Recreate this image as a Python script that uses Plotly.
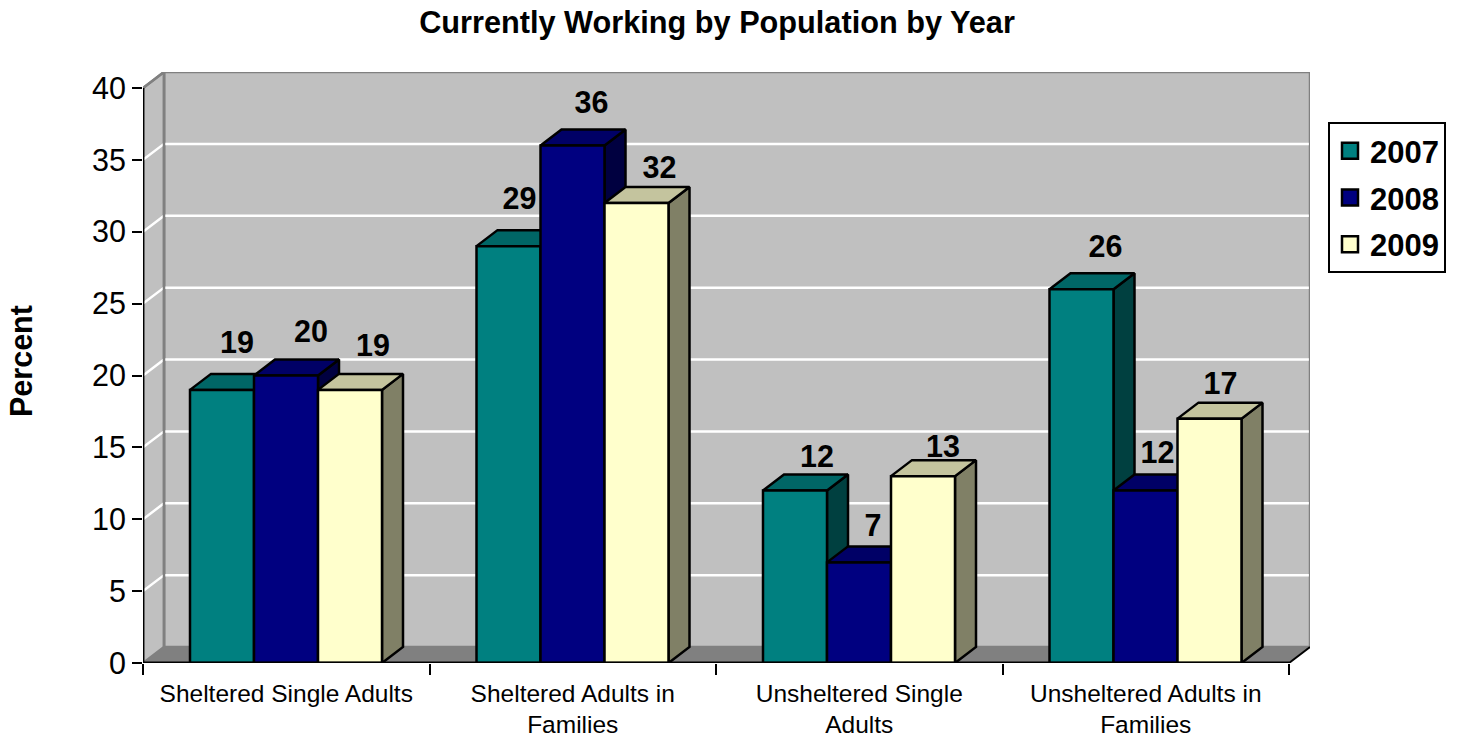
import plotly.graph_objects as go

TITLE = "Currently Working by Population by Year"
Y_TITLE = "Percent"
CATEGORIES = ["Sheltered Single Adults", "Sheltered Adults in<br>Families",
              "Unsheltered Single<br>Adults", "Unsheltered Adults in<br>Families"]
YEARS = ["2007", "2008", "2009"]
VALUES_2007 = [19, 29, 12, 26]
VALUES_2008 = [20, 36, 7, 12]
VALUES_2009 = [19, 32, 13, 17]
Y_TICKS = [0, 5, 10, 15, 20, 25, 30, 35, 40]

SERIES = [VALUES_2007, VALUES_2008, VALUES_2009]
FRONT = ["#008080", "#000080", "#FFFFCC"]
TOP = ["#006666", "#000066", "#C4C49E"]
SIDE = ["#004040", "#000040", "#808066"]

# geometry of the oblique projection
PX_CAT = 286.5
PX_UNIT = 14.375
DX = 21 / PX_CAT
DY = 16 / PX_UNIT
BAR_W = 64 / PX_CAT
BAR_GAP = 47 / PX_CAT
N = len(CATEGORIES)
Y_MAX = Y_TICKS[-1]

# small placement nudges of the value labels, in pixels from the front-top centre of the bar
LABEL_DX = [[15, 25, 23], [11, 19, 23], [22, 14, 20], [24, 12, 11]]
LABEL_DY = [[45, 41, 42], [45, 40, 33], [31, 34, 27], [40, 35, 32]]

fig = go.Figure()


def poly(xs, ys, fill, line="black", width=2.5):
    fig.add_trace(go.Scatter(
        x=xs + xs[:1], y=ys + ys[:1], mode="lines", fill="toself", fillcolor=fill,
        line=dict(color=line, width=width), hoverinfo="skip", showlegend=False, cliponaxis=False))


def seg(xs, ys, color, width):
    fig.add_trace(go.Scatter(
        x=xs, y=ys, mode="lines", line=dict(color=color, width=width),
        hoverinfo="skip", showlegend=False, cliponaxis=False))


WALL = "#C0C0C0"
EDGE = "#808080"
# floor, side wall, back wall
poly([0, DX, N + DX, N], [0, DY, DY, 0], EDGE, EDGE, 1)
poly([DX, N + DX, N + DX, DX], [DY, DY, Y_MAX + DY, Y_MAX + DY], WALL, EDGE)
poly([0, DX, DX, 0], [0, DY, Y_MAX + DY, Y_MAX], WALL, EDGE)
seg([0, DX], [Y_MAX, Y_MAX + DY], EDGE, 2.5)
for t in Y_TICKS[1:-1]:
    seg([0, DX, N + DX - 0.004], [t, t + DY, t + DY], "white", 2.5)
seg([DX, DX], [0 + DY, Y_MAX + DY], EDGE, 2.5)

# bars, back to front in drawing order
for c in range(N):
    for s, vals in enumerate(SERIES):
        v = vals[c]
        x0 = c + BAR_GAP + s * BAR_W
        x1 = x0 + BAR_W
        poly([x1, x1 + DX, x1 + DX, x1], [0, DY, v + DY, v], SIDE[s])
        poly([x0, x1, x1 + DX, x0 + DX], [v, v, v + DY, v + DY], TOP[s])
        poly([x0, x1, x1, x0], [0, 0, v, v], FRONT[s])

# axis lines
seg([0, 0], [0, Y_MAX], "black", 2.8)
seg([0, N], [0, 0], "black", 2.8)
seg([N, N + DX], [0, DY], "black", 2)

# value labels
lx, ly, lt = [], [], []
for c in range(N):
    for s, vals in enumerate(SERIES):
        v = vals[c]
        lx.append(c + BAR_GAP + (s + 0.5) * BAR_W + LABEL_DX[c][s] / PX_CAT)
        ly.append(v + LABEL_DY[c][s] / PX_UNIT)
        lt.append(str(v))
fig.add_trace(go.Scatter(
    x=lx, y=ly, text=lt, mode="text", textposition="middle center",
    textfont=dict(family="Liberation Sans", size=30.5, color="black", weight="bold"),
    hoverinfo="skip", showlegend=False, cliponaxis=False))

# legend entries
for s, year in enumerate(YEARS):
    fig.add_trace(go.Scatter(
        x=[None], y=[None], mode="markers", name=year, legendgroup=year,
        marker=dict(symbol="square", size=16, color=FRONT[s], line=dict(color="black", width=2.5))))

fig.update_layout(
    width=1459, height=740, autosize=False,
    paper_bgcolor="white", plot_bgcolor="white",
    margin=dict(l=143, r=149, t=72, b=77),
    font=dict(family="Liberation Sans", color="black"),
    title=dict(text=TITLE, x=717 / 1459, xanchor="center", xref="container",
               y=1 - 22 / 740, yanchor="middle", yref="container",
               font=dict(size=30.7, weight="bold", family="Liberation Sans", color="black")),
    xaxis=dict(range=[0, N + DX], showgrid=False, zeroline=False, showline=False, automargin=False,
               tickmode="array", tickvals=[i + 0.5 for i in range(N)], ticktext=CATEGORIES,
               ticks="", tickfont=dict(size=24.5), tickangle=0, ticklabelstandoff=13,
               minor=dict(ticks="outside", tick0=0, dtick=1, ticklen=11, tickwidth=2,
                          tickcolor="black", showgrid=False)),
    yaxis=dict(range=[0, Y_MAX + DY], showgrid=False, zeroline=False, showline=False, automargin=False,
               tickmode="array", tickvals=Y_TICKS, ticks="outside", ticklen=10, tickwidth=2,
               tickcolor="black", tickfont=dict(size=30.5)),
    annotations=[dict(text=Y_TITLE, xref="paper", yref="paper", x=-(143 - 21) / 1167,
                      y=(663 - 361) / 591, xanchor="center", yanchor="middle", textangle=-90,
                      showarrow=False,
                      font=dict(size=30.5, weight="bold", family="Liberation Sans", color="black"))],
    legend=dict(x=(1328 - 143) / 1167, xanchor="left", y=(663 - 122) / 591, yanchor="top",
                bgcolor="white", bordercolor="black", borderwidth=2, tracegroupgap=3.5,
                font=dict(size=31, weight="bold", family="Liberation Sans", color="black")),
)

fig.write_html("out.html", config={"displayModeBar": False},
               post_script="document.body.style.margin='0';")
